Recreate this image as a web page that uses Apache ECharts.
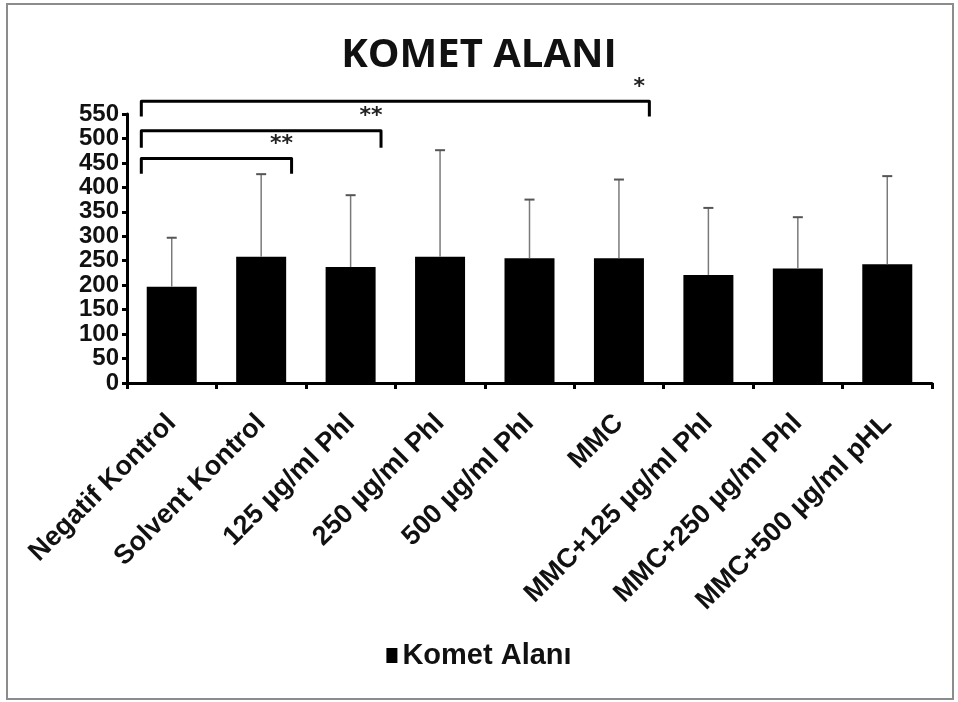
<!DOCTYPE html>
<html>
<head>
<meta charset="utf-8">
<script src="https://cdn.jsdelivr.net/npm/echarts@6/dist/echarts.min.js"></script>
<style>
  html, body { margin: 0; padding: 0; background: #fff; }
  #chart { width: 958px; height: 702px; }
</style>
</head>
<body>
<div id="chart"></div>
<script>
// kategoriler ve değerler
const categories = [
  "Negatif Kontrol",
  "Solvent Kontrol",
  "125 µg/ml Phl",
  "250 µg/ml Phl",
  "500 µg/ml Phl",
  "MMC",
  "MMC+125 µg/ml Phl",
  "MMC+250 µg/ml Phl",
  "MMC+500 µg/ml pHL",
];
const means = [197, 258, 237, 258, 255, 255, 221, 234, 243];
const sd = [100, 169, 147, 218, 120, 161, 137, 105, 180];
const yTicks = [0, 550, 50]; // min, max, interval

// anlamlılık parantezleri
const bracketFrom = [0, 0, 0];
const bracketTo = [1, 2, 5];
const bracketLevel = [459, 516, 576];
const bracketDrop = [428, 481, 545];
const bracketStars = ["**", "**", "*"];

const chart = echarts.init(document.getElementById("chart"));

const errData = means.map((m, i) => [i, m, m + sd[i]]);
const bracketData = bracketFrom.map((f, i) => [
  f, bracketTo[i], bracketLevel[i], bracketDrop[i], i,
]);

const options = {
  animation: false,
  textStyle: { fontFamily: "Liberation Sans" },
  title: {
    text: "KOMET ALANI",
    left: "center",
    top: 31,
    textStyle: {
      fontFamily: "Open Sans",
      fontWeight: "bold",
      fontSize: 40,
      color: "#111",
    },
  },
  legend: {
    data: ["Komet Alanı"],
    bottom: 27,
    left: "center",
    icon: "rect",
    itemWidth: 11,
    itemHeight: 15,
    itemGap: 4,
    textStyle: {
      fontFamily: "Liberation Sans",
      fontWeight: "bold",
      fontSize: 29,
      color: "#111",
    },
  },
  graphic: [
    {
      type: "rect",
      shape: { x: 7, y: 4, width: 946, height: 695 },
      style: { fill: "none", stroke: "#8c8c8c", lineWidth: 2 },
      silent: true,
    },
  ],
  grid: {
    left: 127,
    right: 26,
    top: 114,
    bottom: 319,
    containLabel: false,
  },
  xAxis: {
    type: "category",
    data: categories,
    axisLine: { lineStyle: { color: "#000", width: 3 } },
    axisTick: { show: true, length: 6, lineStyle: { color: "#000", width: 3 } },
    axisLabel: {
      rotate: 45,
      margin: 36,
      interval: 0,
      fontFamily: "Liberation Sans",
      fontWeight: "bold",
      fontSize: 27,
      color: "#111",
    },
  },
  yAxis: {
    type: "value",
    min: yTicks[0],
    max: yTicks[1],
    interval: yTicks[2],
    splitLine: { show: false },
    axisLine: { show: true, lineStyle: { color: "#000", width: 3 } },
    axisTick: { show: true, length: 5, lineStyle: { color: "#000", width: 3 } },
    axisLabel: {
      margin: 8,
      fontFamily: "Liberation Sans",
      fontWeight: "bold",
      fontSize: 24,
      color: "#111",
    },
  },
  series: [
    {
      name: "Komet Alanı",
      type: "bar",
      barWidth: 50,
      itemStyle: { color: "#000" },
      data: means,
      z: 2,
    },
    {
      // hata çubukları (sadece üst)
      type: "custom",
      z: 3,
      data: errData,
      renderItem: (params, api) => {
        const lo = api.coord([api.value(0), api.value(1)]);
        const hi = api.coord([api.value(0), api.value(2)]);
        const cap = 5;
        const st = { stroke: "#7a7a7a", lineWidth: 1.5 };
        return {
          type: "group",
          children: [
            { type: "line", shape: { x1: lo[0], y1: lo[1], x2: hi[0], y2: hi[1] }, style: st },
            { type: "line", shape: { x1: hi[0] - cap, y1: hi[1], x2: hi[0] + cap, y2: hi[1] }, style: { stroke: "#555", lineWidth: 2 } },
          ],
        };
      },
    },
    {
      // anlamlılık parantezleri
      type: "custom",
      z: 4,
      clip: false,
      data: bracketData,
      renderItem: (params, api) => {
        const band = api.size([1, 0])[0];
        const a = api.coord([api.value(0), api.value(2)]);
        const b = api.coord([api.value(1), api.value(2)]);
        const drop = api.coord([api.value(0), api.value(3)])[1];
        const x1 = a[0] - band * 0.34;
        const x2 = b[0] + band * 0.34;
        const y = a[1];
        const idx = api.value(4);
        return {
          type: "group",
          children: [
            {
              type: "polyline",
              shape: { points: [[x1, drop], [x1, y], [x2, y], [x2, drop]] },
              style: { stroke: "#000", lineWidth: 3, fill: "none", lineJoin: "round" },
            },
            {
              type: "text",
              style: {
                x: x2 - 10,
                y: y - 3,
                text: bracketStars[idx],
                align: "center",
                verticalAlign: "bottom",
                fontFamily: "DejaVu Sans",
                fontWeight: "bold",
                fontSize: 22,
                fill: "#222",
              },
            },
          ],
        };
      },
    },
  ],
};

chart.setOption(options);
window.addEventListener("resize", () => {
  chart.resize();
});
</script>
</body>
</html>
